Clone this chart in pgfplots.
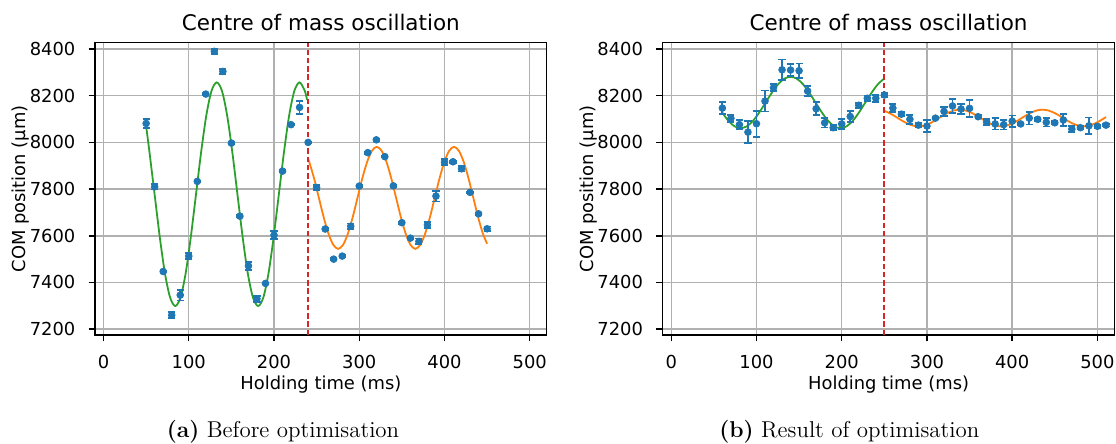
\documentclass[border=0pt]{standalone}
\usepackage{pgfplots}
\pgfplotsset{compat=1.18}
\usepackage{fontspec}
\newfontfamily\dejavu{DejaVu Sans}
\definecolor{tabblue}{HTML}{1F77B4}
\definecolor{taborange}{HTML}{FF7F0E}
\definecolor{tabgreen}{HTML}{2CA02C}
\definecolor{tabred}{HTML}{D62728}
\definecolor{gridgray}{HTML}{B0B0B0}
\pgfplotsset{
  comstyle/.style={
    scale only axis, width=252.4pt, height=163.3pt,
    xmin=-10, xmax=520, ymin=7175, ymax=8427,
    xtick={0,100,...,500}, ytick={7200,7400,...,8400},
    tick pos=left, tick align=outside, major tick length=3.5pt,
    tick style={black, line width=0.8pt},
    axis line style={black, line width=0.8pt},
    grid=major, major grid style={gridgray, line width=0.8pt},
    /pgf/number format/assume math mode=true,
    /pgf/number format/1000 sep={},
    tick label style={font=\dejavu\fontsize{10}{12}\selectfont},
    xticklabel style={anchor=north, inner sep=0pt, yshift=-7.8pt},
    yticklabel style={anchor=east, inner sep=0pt, xshift=-7.3pt},
    label style={font=\dejavu\fontsize{10}{12}\selectfont},
    xlabel={Holding time (ms)},
    ylabel={COM position (μm)},
    xlabel style={at={(axis description cs:0.5,-0.188)}, anchor=base},
    ylabel style={at={(axis description cs:-0.1644,0.5)}, anchor=center},
    title style={at={(axis description cs:0.5,1.0035)}, anchor=base, font=\dejavu\fontsize{12}{14}\selectfont},
    title={Centre of mass oscillation},
  },
  datastyle/.style={only marks, mark=*, mark size=1.9pt, color=tabblue,
    mark options={fill=tabblue, draw=tabblue},
    error bars/.cd, y dir=both, y explicit,
    error bar style={line width=1pt, tabblue},
    error mark options={rotate=90, line width=1pt, mark size=2pt, tabblue}},
}
\begin{document}
\begin{tikzpicture}
\path[use as bounding box] (0,0) rectangle (623.5pt,247.5pt);
% ---------------- (a) ----------------
\begin{axis}[comstyle, at={(53.08pt,60.34pt)}, anchor=south west]
\addplot[tabgreen, line width=1pt, smooth] coordinates {
(50,8070) (53.8,7961) (59.9,7778) (65.975,7595) (72.05,7439) (78.1,7336)
(84.2,7299) (90.3,7336) (96.35,7439) (102.4,7595) (108.5,7778) (114.6,7961)
(120.65,8117) (126.7,8221) (132.8,8257) (138.9,8221) (144.95,8117) (151.0,7961)
(157.1,7778) (163.2,7595) (169.25,7439) (175.3,7336) (181.4,7299) (187.5,7336)
(193.55,7439) (199.6,7595) (205.7,7778) (211.8,7961) (217.85,8117) (223.9,8221)
(230.0,8257) (236.1,8221) (238.7,8183)};
\addplot[taborange, line width=1pt, smooth] coordinates {
(240,7931) (241.3,7917) (247.0,7846) (252.65,7762.5) (258.3,7679) (264.0,7608)
(269.6,7561) (275.3,7544) (281.0,7561) (286.6,7608) (292.3,7679) (297.95,7762.5)
(303.6,7846) (309.3,7917) (314.9,7964) (320.6,7981) (326.3,7964) (331.9,7917)
(337.6,7846) (343.25,7762.5) (348.9,7679) (354.6,7608) (360.2,7561) (365.9,7544)
(371.6,7561) (377.2,7608) (382.9,7679) (388.55,7762.5) (394.2,7846) (399.9,7917)
(405.5,7964) (411.2,7981) (416.9,7964) (422.5,7917) (428.2,7846) (433.85,7762.5)
(439.5,7679) (445.2,7608) (450,7566)};
\addplot[tabred, line width=1.1pt, dash pattern=on 3pt off 1.6pt] coordinates {(240,7175) (240,8427)};
\addplot[datastyle] table[x=x, y=y, y error=e] {
x y e
50 8081 20
60 7810 12
70 7447 4
80 7260 12
90 7346 23
100 7513 12
110 7833 4
120 8207 4
130 8390 10
140 8304 10
150 7997 4
160 7684 4
170 7471 18
180 7330 12
190 7396 4
200 7603 18
210 7877 4
220 8076 4
230 8150 28
240 8000 4
250 7807 12
260 7629 4
270 7500 4
280 7513 4
290 7641 12
300 7813 4
310 7956 4
320 8011 4
330 7939 4
340 7814 4
350 7656 4
360 7590 4
370 7576 12
380 7646 14
390 7770 23
400 7916 12
410 7917 4
420 7887 12
430 7786 4
440 7694 4
450 7630 10
};
\end{axis}
% ---------------- (b) ----------------
\begin{axis}[comstyle, at={(370.25pt,60.34pt)}, anchor=south west]
\addplot[tabgreen, line width=1pt, smooth] coordinates {
(59.6,8129) (66.9,8093) (74.2,8069) (81.5,8061) (88.8,8069) (96.1,8093)
(103.4,8129) (110.75,8171) (118.1,8213) (125.4,8249) (132.7,8273) (140,8281)
(147.3,8273) (154.6,8249) (161.9,8213) (169.25,8171) (176.6,8129) (183.9,8093)
(191.2,8069) (198.5,8061) (205.8,8069) (213.1,8093) (220.4,8129) (227.75,8171)
(235.1,8213) (242.4,8249) (249.7,8273)};
\addplot[taborange, line width=1pt, smooth] coordinates {
(250,8135) (253.6,8129.6) (259.7,8118.1) (265.75,8104.5) (271.8,8090.9) (277.9,8079.4)
(283.9,8071.7) (290,8069) (296.1,8071.7) (302.1,8079.4) (308.2,8090.9) (314.25,8104.5)
(320.3,8118.1) (326.4,8129.6) (332.4,8137.3) (338.5,8140) (344.6,8137.3) (350.6,8129.6)
(356.7,8118.1) (362.75,8104.5) (368.8,8090.9) (374.9,8079.4) (380.9,8071.7) (387,8069)
(393.1,8071.7) (399.1,8079.4) (405.2,8090.9) (411.25,8104.5) (417.3,8118.1) (423.4,8129.6)
(429.4,8137.3) (435.5,8140) (441.6,8137.3) (447.6,8129.6) (453.7,8118.1) (459.75,8104.5)
(465.8,8090.9) (471.9,8079.4) (477.9,8071.7) (484,8069) (490.1,8071.7) (496.1,8079.4)
(502.2,8090.9) (508.25,8104.5) (510,8108.5)};
\addplot[tabred, line width=1.1pt, dash pattern=on 3pt off 1.6pt] coordinates {(250,7175) (250,8427)};
\addplot[datastyle] table[x=x, y=y, y error=e] {
x y e
60 8147 27
70 8103 15
80 8076 20
90 8044 48
100 8080 56
110 8177 45
120 8234 15
130 8311 44
140 8310 26
150 8307 31
160 8220 20
170 8144 28
180 8084 20
190 8063 10
200 8079 21
210 8111 25
220 8159 10
230 8189 12
240 8189 15
250 8203 8
260 8147 18
270 8121 8
280 8099 20
290 8074 10
300 8070 26
310 8104 6
320 8133 20
330 8156 29
340 8143 21
350 8146 36
360 8110 6
370 8087 12
380 8079 24
390 8076 21
400 8091 24
410 8079 6
420 8104 27
430 8099 6
440 8086 18
450 8084 6
460 8096 27
470 8057 14
480 8063 6
490 8071 36
500 8069 6
510 8074 6
};
\end{axis}
\node[anchor=base, font=\fontsize{12.8}{15}\selectfont] at (158.1pt,2.8pt) {\textbf{(a)} Before optimisation};
\node[anchor=base, font=\fontsize{12.8}{15}\selectfont] at (474.5pt,2.8pt) {\textbf{(b)} Result of optimisation};
\end{tikzpicture}
\end{document}
